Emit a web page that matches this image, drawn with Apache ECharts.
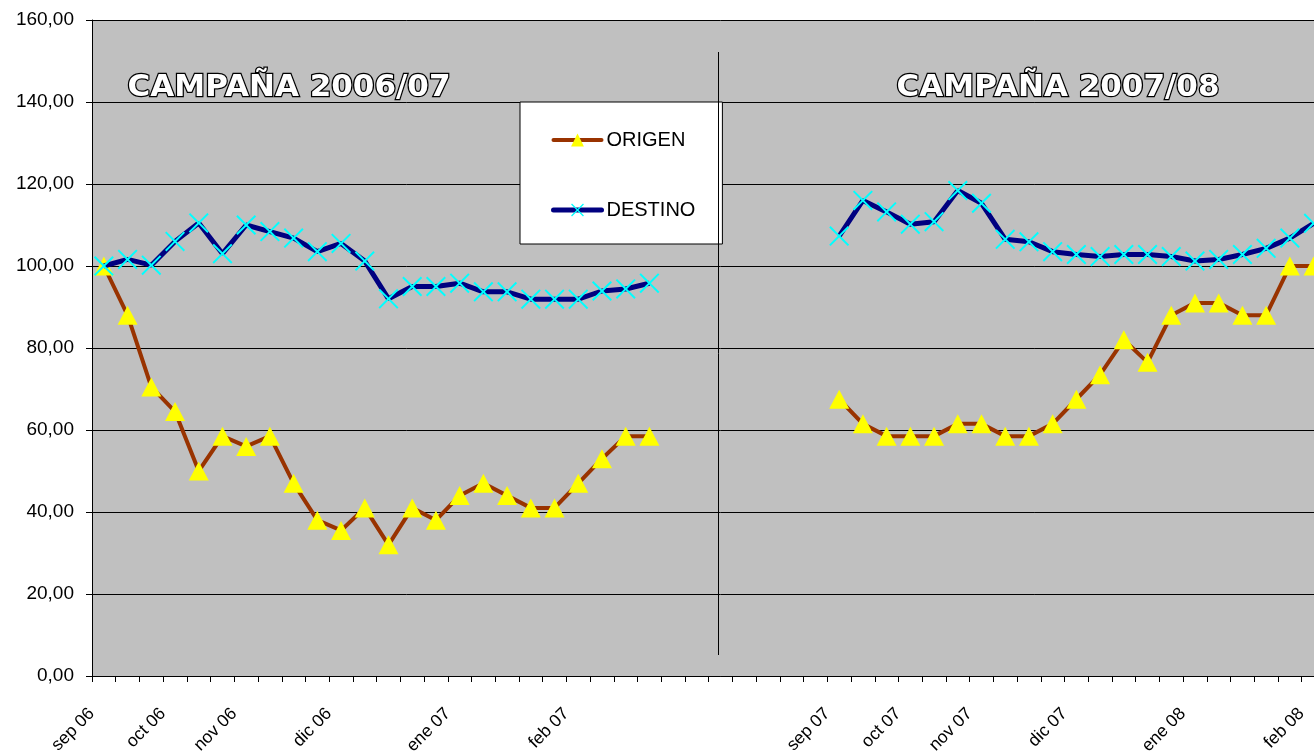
<!DOCTYPE html>
<html>
<head>
<meta charset="utf-8">
<script src="https://cdn.jsdelivr.net/npm/echarts@6/dist/echarts.min.js"></script>
<style>
html,body{margin:0;padding:0;background:#fff;overflow:hidden;}
#chart{width:1352px;height:752px;}
</style>
</head>
<body>
<div id="chart"></div>
<script>
// Weekly categories (only the first week of each month carries a label)
const weekLabels = [
  "sep 06","","","oct 06","","","nov 06","","","","dic 06","","","","","ene 07","","","","","feb 07","","","",
  "","","","","","","",
  "sep 07","","","oct 07","","","nov 07","","","","dic 07","","","","","ene 08","","","","","feb 08",""
];
const origen = [
  100, 88, 70.5, 64.5, 50, 58.5, 56, 58.5, 47, 38, 35.5, 41, 32, 41, 38, 44, 47, 44, 41, 41, 47, 53, 58.5, 58.5,
  null, null, null, null, null, null, null,
  67.5, 61.5, 58.5, 58.5, 58.5, 61.5, 61.5, 58.5, 58.5, 61.5, 67.5, 73.5, 82, 76.5, 88, 91, 91, 88, 88, 100, 100,
  null
];
const destino = [
  100, 101.6, 100.2, 106, 110.5, 103, 110, 108.4, 106.8, 103.5, 105.5, 101.2, 92, 95, 95, 95.8, 93.7, 93.7, 91.9, 91.9, 91.9, 93.9, 94.4, 95.8,
  null, null, null, null, null, null, null,
  107.3, 116, 113.2, 110.2, 110.8, 118.4, 115.3, 106.5, 105.9, 103.5, 102.8, 102.3, 102.8, 102.8, 102.3, 101.2, 101.6, 102.8, 104.3, 106.8, 110.4,
  null
];
const seriesNames = ["ORIGEN", "DESTINO"];
const campaignTitles = ["CAMPAÑA 2006/07", "CAMPAÑA 2007/08"];
const yTicks = [0, 20, 40, 60, 80, 100, 120, 140, 160];

const crossPath = 'path://M0,7L7,0L50,43L93,0L100,7L57,50L100,93L93,100L50,57L7,100L0,93L43,50Z';
const FONT = '"Liberation Sans", Arial, sans-serif';

const chart = echarts.init(document.getElementById('chart'), null, {renderer: 'canvas'});
const catW = 23.72;
const option = {
  animation: false,
  backgroundColor: '#ffffff',
  grid: {
    left: 92, top: 20, width: catW * weekLabels.length, height: 656,
    show: true, backgroundColor: '#C0C0C0', borderWidth: 0,
    containLabel: false, outerBoundsMode: 'none'
  },
  legend: {
    orient: 'vertical',
    left: 520, top: 102,
    data: [
      {name: seriesNames[0], lineStyle: {width: 4, cap: 'round'}},
      {name: seriesNames[1], lineStyle: {width: 5, cap: 'round'}}
    ],
    backgroundColor: '#ffffff',
    borderColor: '#000000', borderWidth: 1,
    padding: [28, 27, 24, 31],
    itemWidth: 48, itemHeight: 16, itemGap: 50,
    textStyle: {fontFamily: FONT, fontSize: 20, color: '#000'}
  },
  xAxis: {
    type: 'category',
    data: weekLabels,
    boundaryGap: true,
    axisLine: {show: true, lineStyle: {color: '#000', width: 1}},
    axisTick: {show: true, interval: 0, length: 6, lineStyle: {color: '#000'}},
    axisLabel: {
      interval: 0, rotate: 45, margin: 23,
      fontFamily: FONT, fontSize: 17.5, color: '#000',
      padding: [0, 17, 0, 0]
    },
    splitLine: {show: false}
  },
  yAxis: {
    type: 'value',
    min: yTicks[0], max: yTicks[yTicks.length - 1], interval: 20,
    axisLine: {show: true, lineStyle: {color: '#000', width: 1}},
    axisTick: {show: true, length: 6, lineStyle: {color: '#000'}},
    axisLabel: {
      margin: 18, fontFamily: FONT, fontSize: 19, color: '#000',
      formatter: v => v.toFixed(2).replace('.', ',')
    },
    splitLine: {show: true, lineStyle: {color: '#000', width: 1}}
  },
  series: [
    {
      name: seriesNames[0], type: 'line', data: origen,
      connectNulls: false, showAllSymbol: true,
      symbol: 'triangle', symbolSize: [20, 19],
      lineStyle: {color: '#993300', width: 4},
      itemStyle: {color: '#FFFF00', borderWidth: 0},
      z: 3
    },
    {
      name: seriesNames[1], type: 'line', data: destino,
      connectNulls: false, showAllSymbol: true,
      symbol: crossPath, symbolSize: 20,
      lineStyle: {color: '#000080', width: 5},
      itemStyle: {color: '#00FFFF', borderWidth: 0},
      z: 4
    }
  ],
  graphic: [
    {type: 'line', z: 100, shape: {x1: 718.5, y1: 52, x2: 718.5, y2: 655}, style: {stroke: '#000', lineWidth: 1}},
    {type: 'text', z: 100, x: 289, y: 88, style: {
      text: campaignTitles[0], font: 'bold 31px "DejaVu Sans"', fill: '#ffffff',
      stroke: '#000000', lineWidth: 2.5, align: 'center', verticalAlign: 'middle'}},
    {type: 'text', z: 100, x: 1058, y: 88, style: {
      text: campaignTitles[1], font: 'bold 31px "DejaVu Sans"', fill: '#ffffff',
      stroke: '#000000', lineWidth: 2.5, align: 'center', verticalAlign: 'middle'}}
  ]
};
chart.setOption(option);
</script>
</body>
</html>
